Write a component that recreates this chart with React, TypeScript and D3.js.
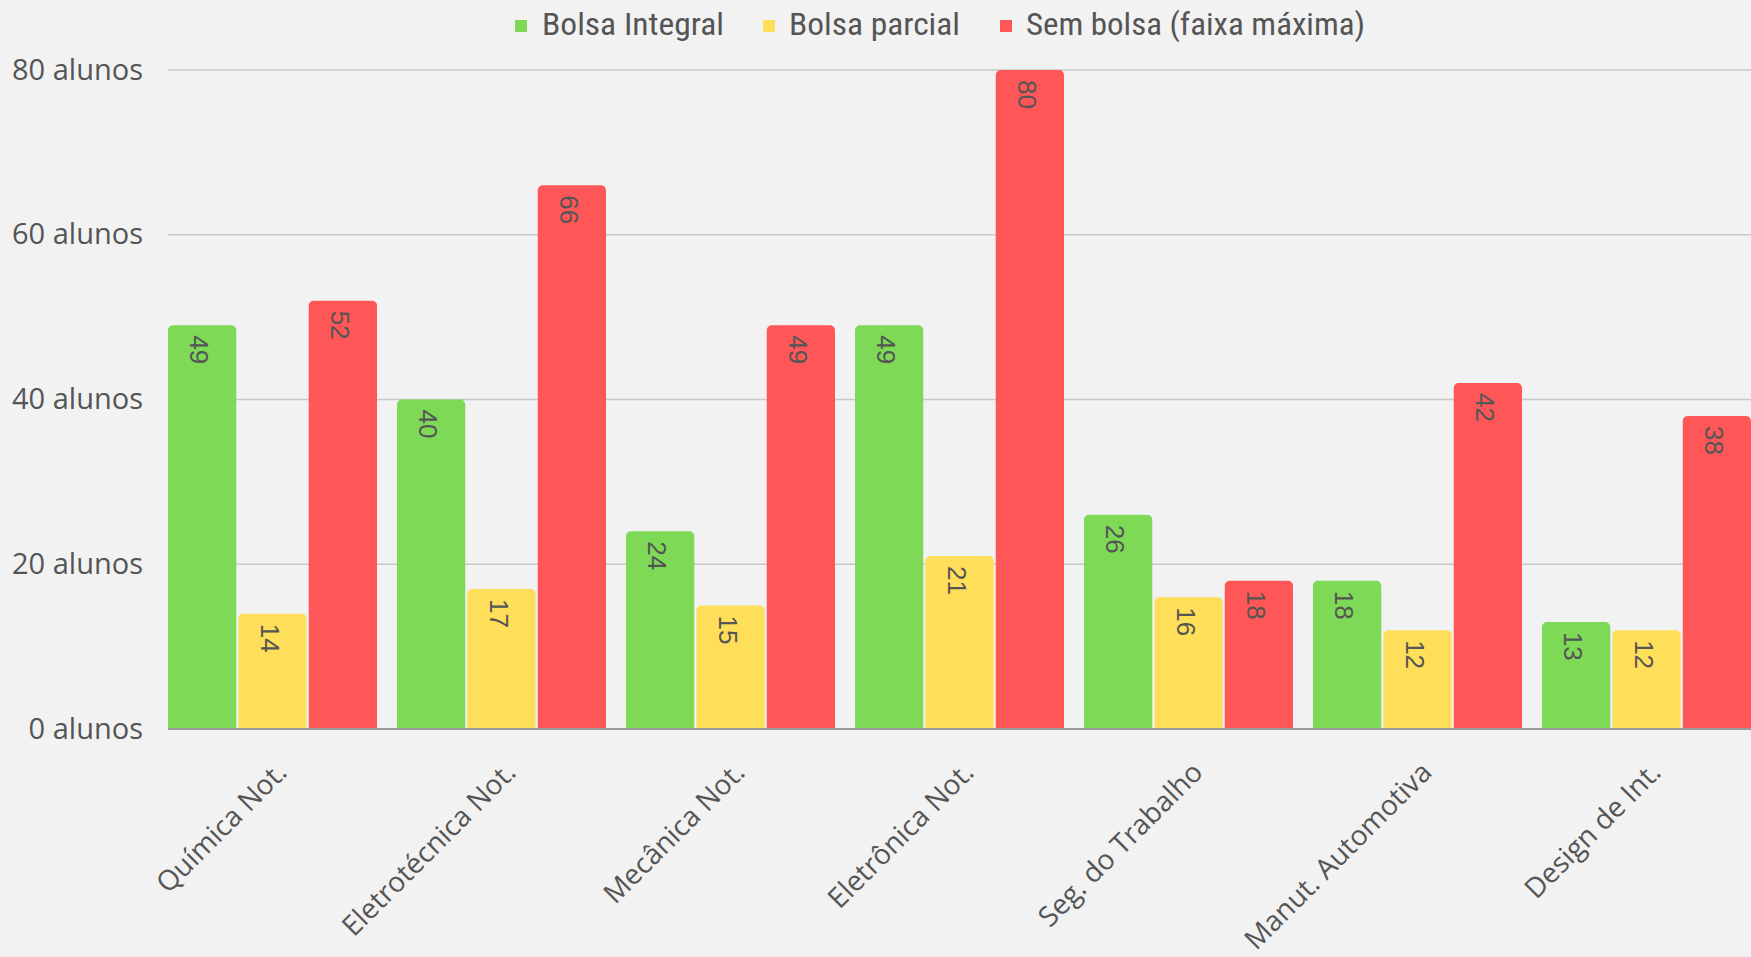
import React, { useEffect } from "react";
import * as d3 from "d3";

const categories = [
  "Química Not.",
  "Eletrotécnica Not.",
  "Mecânica Not.",
  "Eletrônica Not.",
  "Seg. do Trabalho",
  "Manut. Automotiva",
  "Design de Int.",
];
const seriesNames = ["Bolsa Integral", "Bolsa parcial", "Sem bolsa (faixa máxima)"];
const bolsaIntegral = [49, 40, 24, 49, 26, 18, 13];
const bolsaParcial = [14, 17, 15, 21, 16, 12, 12];
const semBolsa = [52, 66, 49, 80, 18, 42, 38];
const yTicks = [0, 20, 40, 60, 80];
const colors = ["#7ED957", "#FFDE59", "#FF5757"];

const W = 1751;
const H = 957;
const left = 168;
const right = 1751;
const baseY = 729;
const topY = 70;
const TXT = "#555555";

function topRoundedRect(x: number, y: number, w: number, h: number, r: number) {
  const rr = Math.min(r, h / 2, w / 2);
  const p = d3.path();
  p.moveTo(x, y + h);
  p.lineTo(x, y + rr);
  p.arcTo(x, y, x + rr, y, rr);
  p.lineTo(x + w - rr, y);
  p.arcTo(x + w, y, x + w, y + rr, rr);
  p.lineTo(x + w, y + h);
  p.closePath();
  return p.toString();
}

export default function App() {
  useEffect(() => {
    document.body.style.margin = "0";
    document.body.style.background = "#F2F2F2";
  }, []);

  const series = [bolsaIntegral, bolsaParcial, semBolsa];
  const x0 = d3.scaleBand<string>().domain(categories).range([left, right]).paddingInner(20 / 229).paddingOuter(0);
  const x1 = d3.scaleBand<string>().domain(seriesNames).range([0, x0.bandwidth()]).paddingInner(0.03);
  const y = d3.scaleLinear().domain([0, 80]).range([baseY, topY]);

  const legendItems = [
    { sq: 515, tx: 542, w: 182 },
    { sq: 763, tx: 789, w: 171 },
    { sq: 1000, tx: 1026, w: 339 },
  ];

  return (
    <div style={{ position: "absolute", left: 0, top: 0 }}>
      <svg width={W} height={H} style={{ display: "block", background: "#F2F2F2" }}>
        <rect x={0} y={0} width={W} height={H} fill="#F2F2F2" />
        {yTicks.filter((t) => t !== 0).map((t) => (
          <line key={t} x1={left} x2={right} y1={y(t)} y2={y(t)} stroke="#C8C8C8" strokeWidth={1.5} />
        ))}
        {yTicks.map((t) => (
          <text
            key={"yl" + t}
            x={143}
            y={y(t) - 2}
            textAnchor="end"
            dominantBaseline="central"
            fontFamily="'Open Sans', sans-serif"
            fontSize={29}
            fill={TXT}
          >
            {t} alunos
          </text>
        ))}
        {categories.map((c, i) => (
          <g key={c} transform={`translate(${x0(c)},0)`}>
            {seriesNames.map((s, j) => {
              const v = series[j][i];
              const bx = x1(s)!;
              const bw = x1.bandwidth();
              const by = y(v);
              return (
                <g key={s}>
                  <path d={topRoundedRect(bx, by, bw, baseY - by, 5)} fill={colors[j]} />
                  <text
                    transform={`translate(${bx + bw / 2 - 3},${by + 10}) rotate(90)`}
                    textAnchor="start"
                    dominantBaseline="central"
                    fontFamily="'Liberation Sans', Arimo, sans-serif"
                    fontSize={26}
                    fill={TXT}
                  >
                    {v}
                  </text>
                </g>
              );
            })}
          </g>
        ))}
        <line x1={left} x2={right} y1={baseY} y2={baseY} stroke="#9A9A9A" strokeWidth={2} />
        {categories.map((c) => (
          <text
            key={"xl" + c}
            transform={`translate(${x0(c)! + x0.bandwidth() / 2 + 16},${baseY + 45}) rotate(-45)`}
            textAnchor="end"
            fontFamily="'Open Sans', sans-serif"
            fontSize={28}
            fill={TXT}
          >
            {c}
          </text>
        ))}
        {seriesNames.map((s, j) => (
          <g key={"lg" + s}>
            <rect x={legendItems[j].sq} y={20} width={12} height={12} fill={colors[j]} />
            <text
              x={legendItems[j].tx}
              y={35}
              textLength={legendItems[j].w}
              lengthAdjust="spacingAndGlyphs"
              fontFamily="'Liberation Sans Narrow', 'Roboto Condensed', Roboto, sans-serif"
              fontSize={31}
              fill={TXT}
            >
              {s}
            </text>
          </g>
        ))}
      </svg>
    </div>
  );
}
